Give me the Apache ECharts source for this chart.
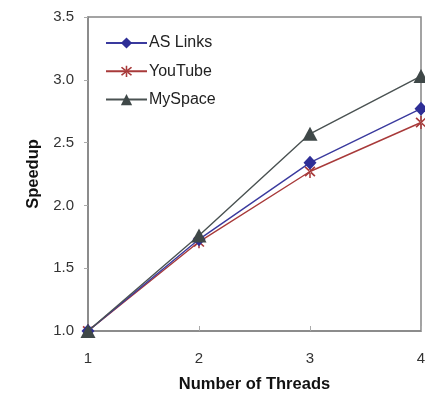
<!DOCTYPE html>
<html>
<head>
<meta charset="utf-8">
<script src="https://cdn.jsdelivr.net/npm/echarts@6/dist/echarts.min.js"></script>
<style>
  html, body { margin: 0; padding: 0; background: #fff; overflow: hidden; }
  #chart { width: 425px; height: 393px; }
</style>
</head>
<body>
<div id="chart"></div>
<script>
// Thread counts on the x axis
const threads = [1, 2, 3, 4];
// Measured speedups per data set
const asLinks = [1.0, 1.73, 2.34, 2.77];
const youTube = [1.0, 1.71, 2.27, 2.66];
const mySpace = [1.0, 1.76, 2.57, 3.03];
// Y-axis range and step
const yMin = 1.0, yMax = 3.5, yStep = 0.5;

// Asterisk marker: a vertical bar plus two diagonal bars
const asterisk = 'path://M-0.55,-5L0.55,-5L0.55,5L-0.55,5Z' +
  'M3.12,3.96L3.96,3.12L-3.12,-3.96L-3.96,-3.12Z' +
  'M-3.12,3.96L-3.96,3.12L3.12,-3.96L3.96,-3.12Z';

const font = '"Liberation Sans", Arial, sans-serif';
const axisGray = '#858585';

function pairs(ys) { return threads.map((t, i) => [t, ys[i]]); }

const chart = echarts.init(document.getElementById('chart'), null, { renderer: 'canvas' });
chart.setOption({
  animation: false,
  textStyle: { fontFamily: font },
  grid: {
    left: 88, top: 17, right: 4, bottom: 62,
    outerBoundsMode: 'none', containLabel: false,
    show: true, borderColor: axisGray, borderWidth: 1.5, backgroundColor: 'transparent'
  },
  legend: {
    orient: 'vertical',
    left: 100, top: 30,
    itemWidth: 41, itemHeight: 14, itemGap: 12.3,
    textStyle: { fontFamily: font, fontSize: 16, color: '#222', padding: [0, 0, 0, -3] },
    data: ['AS Links', 'YouTube', 'MySpace']
  },
  xAxis: {
    type: 'value', min: 1, max: 4, interval: 1,
    name: 'Number of Threads', nameLocation: 'middle', nameGap: 45,
    nameTextStyle: { fontFamily: font, fontSize: 16.5, fontWeight: 'bold', color: '#111' },
    axisLine: { lineStyle: { color: axisGray, width: 1.5 } },
    axisTick: { inside: true, length: 5, lineStyle: { color: '#aaa' } },
    axisLabel: { fontSize: 15, color: '#333', margin: 20 },
    splitLine: { show: false }
  },
  yAxis: {
    type: 'value', min: yMin, max: yMax, interval: yStep,
    name: 'Speedup', nameLocation: 'middle', nameGap: 44,
    nameTextStyle: { fontFamily: font, fontSize: 16.5, fontWeight: 'bold', color: '#111' },
    axisLine: { lineStyle: { color: axisGray, width: 1.5 } },
    axisTick: { length: 4, lineStyle: { color: '#aaa' } },
    axisLabel: { fontSize: 15, color: '#333', margin: 14, formatter: v => v.toFixed(1) },
    splitLine: { show: false }
  },
  series: [
    {
      name: 'AS Links', type: 'line', data: pairs(asLinks),
      symbol: 'diamond', symbolSize: [13, 14],
      lineStyle: { color: '#3a3a9e', width: 1.4 },
      itemStyle: { color: '#2e2e96' },
      z: 3
    },
    {
      name: 'YouTube', type: 'line', data: pairs(youTube),
      symbol: asterisk, symbolSize: [11, 13],
      lineStyle: { color: '#a83a3a', width: 1.4 },
      itemStyle: { color: '#a83a3a' },
      z: 2
    },
    {
      name: 'MySpace', type: 'line', data: pairs(mySpace),
      symbol: 'triangle', symbolSize: [15, 14],
      lineStyle: { color: '#4a5252', width: 1.4 },
      itemStyle: { color: '#3f4848' },
      z: 4
    }
  ]
});
</script>
</body>
</html>
